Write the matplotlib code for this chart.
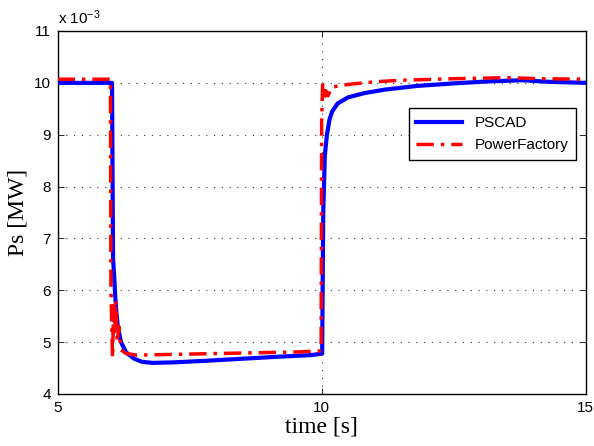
import matplotlib
matplotlib.use("Agg")
import matplotlib.pyplot as plt

plt.rcParams['font.family'] = ['Liberation Sans', 'DejaVu Sans']
plt.rcParams['mathtext.fontset'] = 'custom'
plt.rcParams['mathtext.rm'] = 'Liberation Sans'
plt.rcParams['mathtext.it'] = 'Liberation Sans'

# PSCAD series (values in 1e-3 MW)
t_pscad = [5.0, 6.0, 6.03, 6.05, 6.07, 6.09, 6.11, 6.14, 6.2, 6.3, 6.45, 6.6, 6.8,
           7.2, 7.8, 8.5, 9.2, 9.8, 10.01, 10.03, 10.06, 10.1, 10.15, 10.2, 10.3,
           10.5, 10.8, 11.2, 11.8, 12.5, 13.2, 13.8, 14.3, 15.0]
v_pscad = [10.0, 10.0, 10.0, 6.6, 6.3, 5.9, 5.6, 5.3, 5.0, 4.8, 4.68, 4.62, 4.6,
           4.61, 4.64, 4.68, 4.72, 4.75, 4.78, 7.5, 8.6, 9.0, 9.3, 9.45, 9.6,
           9.72, 9.8, 9.87, 9.94, 9.99, 10.03, 10.05, 10.02, 10.0]

# PowerFactory series (values in 1e-3 MW)
t_pf = [5.0, 6.0, 6.01, 6.04, 6.06, 6.08, 6.1, 6.13, 6.16, 6.2, 6.3, 6.5, 7.5,
        8.5, 9.5, 9.99, 10.0, 10.02, 10.05, 10.08, 10.12, 10.2, 10.5, 11.0,
        11.5, 12.5, 13.5, 14.2, 15.0]
v_pf = [10.07, 10.07, 6.0, 4.7, 5.7, 5.2, 5.8, 5.0, 5.3, 4.85, 4.78, 4.75, 4.77,
        4.79, 4.81, 4.83, 9.3, 10.0, 9.7, 9.85, 9.75, 9.92, 9.97, 10.02,
        10.05, 10.08, 10.1, 10.08, 10.07]

x_ticks = [5, 10, 15]
y_ticks = [4, 5, 6, 7, 8, 9, 10, 11]

fig = plt.figure(figsize=(5.94, 4.46), dpi=100)
ax = fig.add_axes([0.097, 0.1166, 0.889, 0.8139])

ax.plot(t_pscad, v_pscad, color='#0000ff', lw=3.0, label='PSCAD', zorder=3)
ax.plot(t_pf, v_pf, color='#ff0000', lw=2.5, ls=(0, (5, 2, 1, 2)),
        label='PowerFactory', zorder=4)

ax.set_xlim(5, 15)
ax.set_ylim(4, 11)
ax.set_xticks(x_ticks)
ax.set_yticks(y_ticks)
ax.tick_params(direction='in', top=True, right=True, labelsize=11, length=4,
               width=0.6, pad=5)
ax.grid(True, color='#333333', linestyle=(0, (1, 6)), linewidth=0.8)
for s in ax.spines.values():
    s.set_linewidth(1.0)

ax.set_xlabel('time [s]', fontsize=17, family='Liberation Serif', labelpad=1)
ax.set_ylabel('Ps [MW]', fontsize=17, family='Liberation Serif', labelpad=4)
ax.text(0.0, 1.012, r'x 10$^{-3}$', transform=ax.transAxes, fontsize=11,
        ha='left', va='bottom')

leg = ax.legend(loc='upper right', bbox_to_anchor=(0.996, 0.808), fontsize=11,
                fancybox=False, framealpha=1, edgecolor='black',
                handlelength=3.0, borderpad=0.5, labelspacing=0.55)
leg.get_frame().set_linewidth(1.0)

fig.savefig('out.png', dpi=100)
